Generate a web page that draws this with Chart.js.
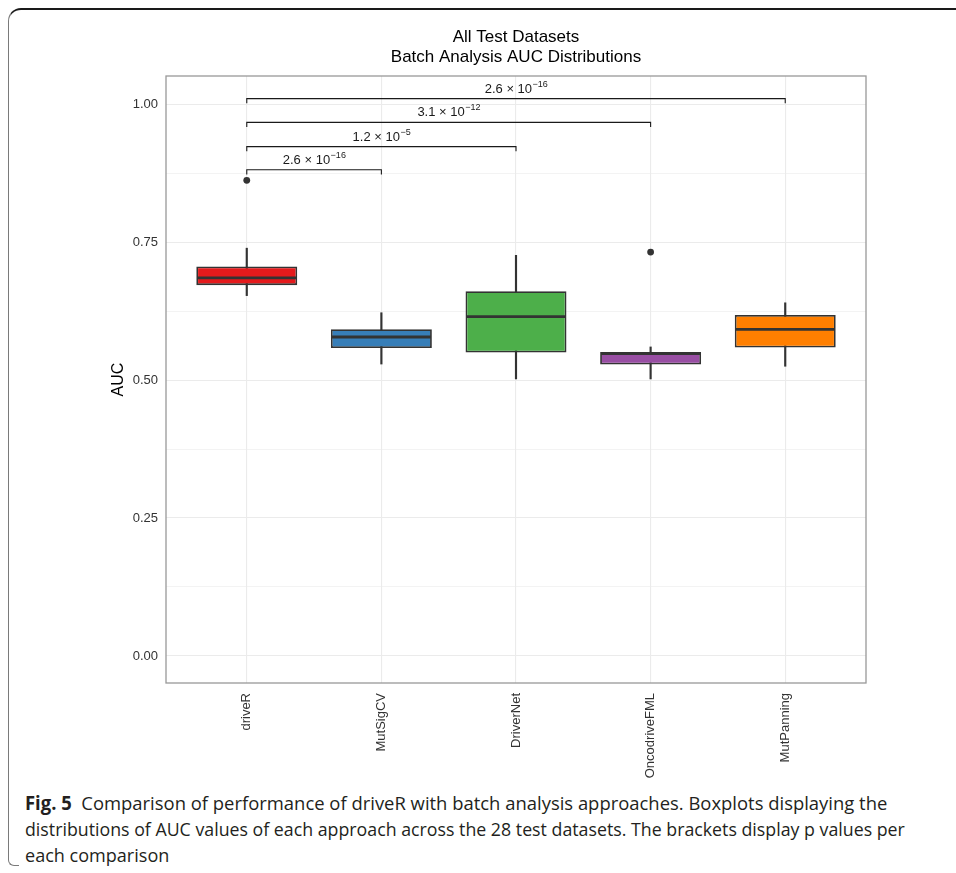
<!DOCTYPE html>
<html>
<head>
<meta charset="utf-8">
<script src="https://cdn.jsdelivr.net/npm/chart.js@4/dist/chart.umd.min.js"></script>
<style>
  html, body { margin: 0; padding: 0; background: #fff; }
  body { width: 956px; height: 873px; position: relative; overflow: hidden; }
  #frame {
    position: absolute; left: 8px; top: 8px; width: 1000px; height: 858px;
    border-top: 2px solid #1a1a1a; border-left: 1.5px solid #7a7a7a;
    border-bottom: 1.5px solid #7a7a7a;
    border-top-left-radius: 13px; border-bottom-left-radius: 6px; box-sizing: border-box;
  }
  #frame::after {
    content: ""; position: absolute; left: 10px; right: 0; bottom: -3px; height: 4px; background: #fff;
  }
  #plot { position: absolute; left: 0; top: 0; }
  #caption {
    position: absolute; left: 25px; top: 790px; width: 1000px;
    font-family: "Open Sans", "Noto Sans", sans-serif; font-size: 19px;
    line-height: 26px; color: #231f20; white-space: nowrap;
  }
  #caption div { transform-origin: 0 0; }
  #caption .l1 { transform: scaleX(0.97); }
  #caption .l2 { transform: scaleX(0.935); }
  #caption .l3 { transform: scaleX(0.95); }
  #caption b { font-weight: 700; }
</style>
</head>
<body>
<div id="frame"></div>
<canvas id="plot" width="956" height="785"></canvas>
<div id="caption">
  <div class="l1"><b>Fig. 5</b>&nbsp; Comparison of performance of driveR with batch analysis approaches. Boxplots displaying the</div>
  <div class="l2">distributions of AUC values of each approach across the 28 test datasets. The brackets display p values per</div>
  <div class="l3">each comparison</div>
</div>
<script>
const methods = ["driveR", "MutSigCV", "DriverNet", "OncodriveFML", "MutPanning"];
const boxColors = ["#E41A1C", "#377EB8", "#4DAF4A", "#984EA3", "#FF7F00"];
const whiskerLow = [0.653, 0.529, 0.502, 0.502, 0.525];
const q1 = [0.672, 0.558, 0.550, 0.528, 0.559];
const medians = [0.685, 0.578, 0.615, 0.548, 0.592];
const q3 = [0.706, 0.592, 0.661, 0.551, 0.618];
const whiskerHigh = [0.739, 0.622, 0.726, 0.560, 0.640];
const outlierMethod = [1, 4];
const outlierValue = [0.862, 0.732];
const yTicks = [0, 0.25, 0.5, 0.75, 1.0];
const yMinorTicks = [0.125, 0.375, 0.625, 0.875];

// comparison brackets (driveR vs others)
const bracketFrom = [1, 1, 1, 1];
const bracketTo = [5, 4, 3, 2];
const bracketY = [1.010, 0.967, 0.923, 0.881];
const bracketMantissa = ["2.6", "3.1", "1.2", "2.6"];
const bracketExp = ["\u221216", "\u221212", "\u22125", "\u221216"];

const titleLines = ["All Test Datasets", "Batch Analysis AUC Distributions"];
const sansFont = "'Liberation Sans', Arial, Helvetica, sans-serif";

const isMajor = (v) => yTicks.some((t) => Math.abs(t - v) < 1e-6);

const ggExtras = {
  id: "ggExtras",
  afterDatasetsDraw(chart) {
    const { ctx, chartArea } = chart;
    const xs = chart.scales.x;
    const ys = chart.scales.y;

    // median lines across each box
    const boxMeta = chart.getDatasetMeta(1);
    ctx.save();
    ctx.strokeStyle = "#333333";
    ctx.lineWidth = 2.8;
    boxMeta.data.forEach((bar, i) => {
      const y = ys.getPixelForValue(medians[i]);
      ctx.beginPath();
      ctx.moveTo(bar.x - bar.width / 2 + 1, y);
      ctx.lineTo(bar.x + bar.width / 2 - 1, y);
      ctx.stroke();
    });
    ctx.restore();

    // panel border
    ctx.save();
    ctx.strokeStyle = "#999999";
    ctx.lineWidth = 1.3;
    ctx.strokeRect(chartArea.left, chartArea.top, chartArea.right - chartArea.left, chartArea.bottom - chartArea.top);
    ctx.restore();

    // significance brackets
    const tip = 0.0085;
    ctx.save();
    ctx.strokeStyle = "#1a1a1a";
    ctx.fillStyle = "#1a1a1a";
    ctx.lineWidth = 1.1;
    bracketY.forEach((v, i) => {
      const x1 = xs.getPixelForValue(bracketFrom[i]);
      const x2 = xs.getPixelForValue(bracketTo[i]);
      const y = ys.getPixelForValue(v);
      const yTip = ys.getPixelForValue(v - tip);
      ctx.beginPath();
      ctx.moveTo(x1, yTip);
      ctx.lineTo(x1, y);
      ctx.lineTo(x2, y);
      ctx.lineTo(x2, yTip);
      ctx.stroke();

      const main = bracketMantissa[i] + " \u00d7 10";
      ctx.font = "13px " + sansFont;
      const wMain = ctx.measureText(main).width;
      ctx.font = "9px " + sansFont;
      const wExp = ctx.measureText(bracketExp[i]).width;
      const cx = (x1 + x2) / 2;
      const start = cx - (wMain + wExp) / 2;
      ctx.textBaseline = "alphabetic";
      ctx.textAlign = "left";
      ctx.font = "13px " + sansFont;
      ctx.fillText(main, start, y - 6);
      ctx.font = "9px " + sansFont;
      ctx.fillText(bracketExp[i], start + wMain + 0.5, y - 12);
    });
    ctx.restore();

    // two-line plot title centred over the panel
    ctx.save();
    ctx.fillStyle = "#000";
    ctx.font = "17px " + sansFont;
    ctx.textAlign = "center";
    ctx.textBaseline = "middle";
    const cx = (chartArea.left + chartArea.right) / 2;
    ctx.fillText(titleLines[0], cx, 37);
    ctx.fillText(titleLines[1], cx, 57);
    ctx.restore();
  }
};

const ctx = document.getElementById("plot").getContext("2d");

new Chart(ctx, {
  type: "bar",
  data: {
    datasets: [
      {
        label: "whiskers",
        data: methods.map((m, i) => ({ x: i + 1, y: [whiskerLow[i], whiskerHigh[i]] })),
        backgroundColor: "#333333",
        borderWidth: 0,
        barThickness: 1.5,
        grouped: false,
        order: 3,
      },
      {
        label: "boxes",
        data: methods.map((m, i) => ({ x: i + 1, y: [q1[i], q3[i]] })),
        backgroundColor: boxColors,
        borderColor: "#333333",
        borderWidth: 1.8,
        borderSkipped: false,
        categoryPercentage: 1,
        barPercentage: 0.75,
        grouped: false,
        order: 2,
      },
      {
        type: "scatter",
        label: "outliers",
        data: outlierMethod.map((m, i) => ({ x: m, y: outlierValue[i] })),
        backgroundColor: "#333333",
        borderWidth: 0,
        pointRadius: 3.4,
        order: 1,
      },
    ],
  },
  options: {
    responsive: false,
    animation: false,
    events: [],
    layout: { padding: { left: 105, right: 90, top: 76, bottom: 0 } },
    plugins: {
      legend: { display: false },
      tooltip: { enabled: false },
      title: { display: false },
    },
    scales: {
      x: {
        type: "linear",
        bounds: "data",
        offset: false,
        min: 0.4,
        max: 5.6,
        afterBuildTicks(scale) { scale.ticks = methods.map((m, i) => ({ value: i + 1 })); },
        afterFit(scale) { scale.height = 102; },
        border: { display: false },
        grid: { color: "#ebebeb", lineWidth: 1.1, drawTicks: false, offset: false },
        ticks: {
          autoSkip: false,
          minRotation: 90,
          maxRotation: 90,
          padding: 10,
          color: "#333333",
          font: { family: sansFont, size: 13 },
          callback: (v) => methods[Math.round(v) - 1] || "",
        },
      },
      y: {
        type: "linear",
        bounds: "data",
        min: -0.049,
        max: 1.051,
        afterBuildTicks(scale) {
          scale.ticks = yTicks.concat(yMinorTicks).sort((a, b) => a - b).map((v) => ({ value: v }));
        },
        afterFit(scale) { scale.width = 61; },
        border: { display: false },
        grid: {
          color: "#ebebeb",
          drawTicks: false,
          lineWidth: (c) => (isMajor(c.tick.value) ? 1.1 : 0.6),
        },
        ticks: {
          autoSkip: false,
          padding: 8,
          color: "#333333",
          font: { family: sansFont, size: 13 },
          callback: (v) => (isMajor(v) ? v.toFixed(2) : ""),
        },
        title: {
          display: true,
          text: "AUC",
          color: "#000",
          font: { family: sansFont, size: 16 },
          padding: { top: 4, bottom: 0 },
        },
      },
    },
  },
  plugins: [ggExtras],
});
</script>
</body>
</html>
